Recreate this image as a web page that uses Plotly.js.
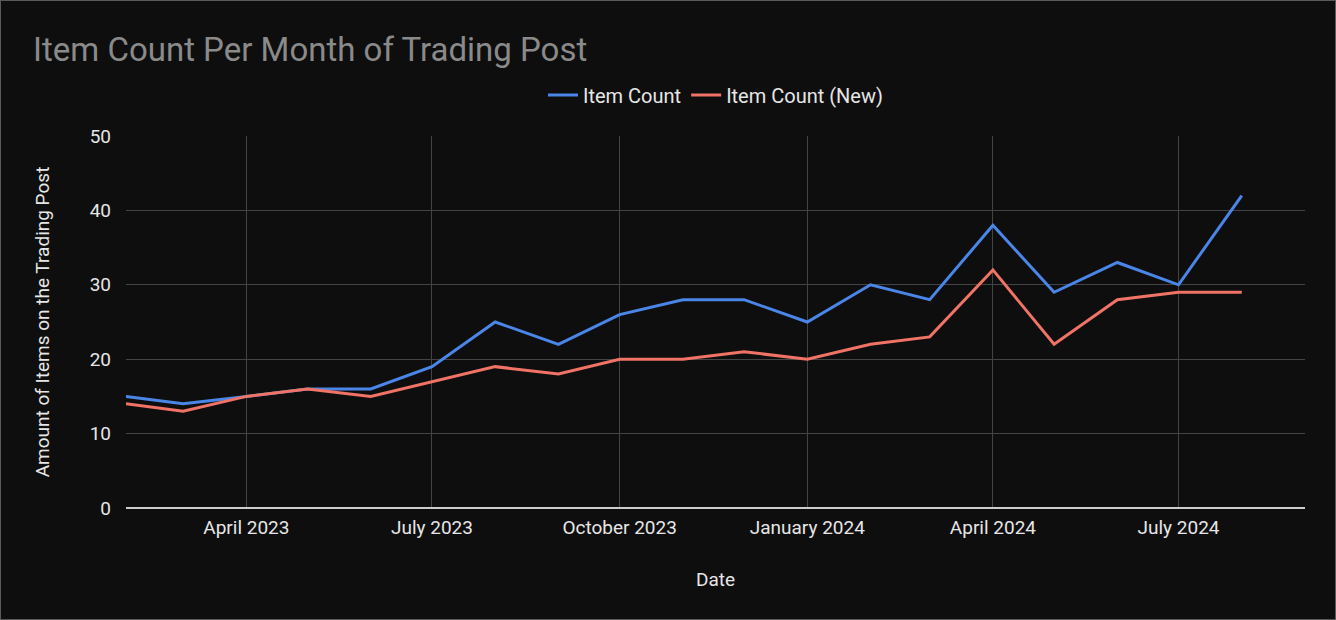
<!DOCTYPE html>
<html>
<head>
<meta charset="utf-8">
<script src="https://cdn.plot.ly/plotly-3.0.1.min.js"></script>
<style>
    html, body { margin: 0; padding: 0; background: #0e0e0e; }
    #plot { width: 1334px; height: 618px; border: 1px solid #5a5a5a; }
</style>
</head>
<body>
<div id="plot"></div>
<script>
// monthly snapshots, first of each month
const months = [
    '2023-02-01', '2023-03-01', '2023-04-01', '2023-05-01', '2023-06-01', '2023-07-01',
    '2023-08-01', '2023-09-01', '2023-10-01', '2023-11-01', '2023-12-01', '2024-01-01',
    '2024-02-01', '2024-03-01', '2024-04-01', '2024-05-01', '2024-06-01', '2024-07-01',
    '2024-08-01'
];
const itemCount = [15, 14, 15, 16, 16, 19, 25, 22, 26, 28, 28, 25, 30, 28, 38, 29, 33, 30, 42];
const itemCountNew = [14, 13, 15, 16, 15, 17, 19, 18, 20, 20, 21, 20, 22, 23, 32, 22, 28, 29, 29];

const fontFamily = 'Roboto, Liberation Sans, Arial, sans-serif';

const traces = [{
        type: 'scatter',
        mode: 'lines',
        x: months,
        y: itemCount,
        name: 'Item Count',
        line: { color: '#4a86e8', width: 3 }
    },
    {
        type: 'scatter',
        mode: 'lines',
        x: months,
        y: itemCountNew,
        name: 'Item Count (New)',
        line: { color: '#f07366', width: 3 }
    }
];

const layout = {
    width: 1334,
    height: 618,
    paper_bgcolor: '#0e0e0e',
    plot_bgcolor: '#0e0e0e',
    font: { family: fontFamily, color: '#e6e6e6', size: 19 },
    margin: { l: 125, r: 30, t: 135, b: 111 },
    title: {
        text: 'Item Count Per Month of Trading Post',
        x: 0.024,
        xanchor: 'left',
        yref: 'container',
        y: 0.922,
        yanchor: 'middle',
        font: { size: 33, color: '#8a8a8a' }
    },
    showlegend: true,
    legend: {
        orientation: 'h',
        x: 0.5,
        xanchor: 'center',
        y: 1.11,
        yanchor: 'middle',
        itemwidth: 30,
        font: { size: 20, color: '#e6e6e6' }
    },
    xaxis: {
        type: 'date',
        range: ['2023-02-01', '2024-09-01'],
        tick0: '2023-01-01',
        dtick: 'M3',
        tickformat: '%B %Y',
        showgrid: true,
        gridcolor: '#444444',
        gridwidth: 1,
        zeroline: false,
        showline: false,
        ticks: '',
        ticklabelstandoff: 6,
        tickfont: { size: 19 },
        title: { text: 'Date', font: { size: 19 }, standoff: 34 }
    },
    yaxis: {
        range: [0, 50],
        dtick: 10,
        showgrid: true,
        gridcolor: '#444444',
        gridwidth: 1,
        zeroline: true,
        zerolinecolor: '#cccccc',
        zerolinewidth: 2,
        ticks: '',
        ticklabelstandoff: 14,
        tickfont: { size: 19 },
        title: { text: 'Amount of Items on the Trading Post', font: { size: 19 }, standoff: 34 }
    }
};

Plotly.newPlot('plot', traces, layout, { displayModeBar: false });
</script>
</body>
</html>
